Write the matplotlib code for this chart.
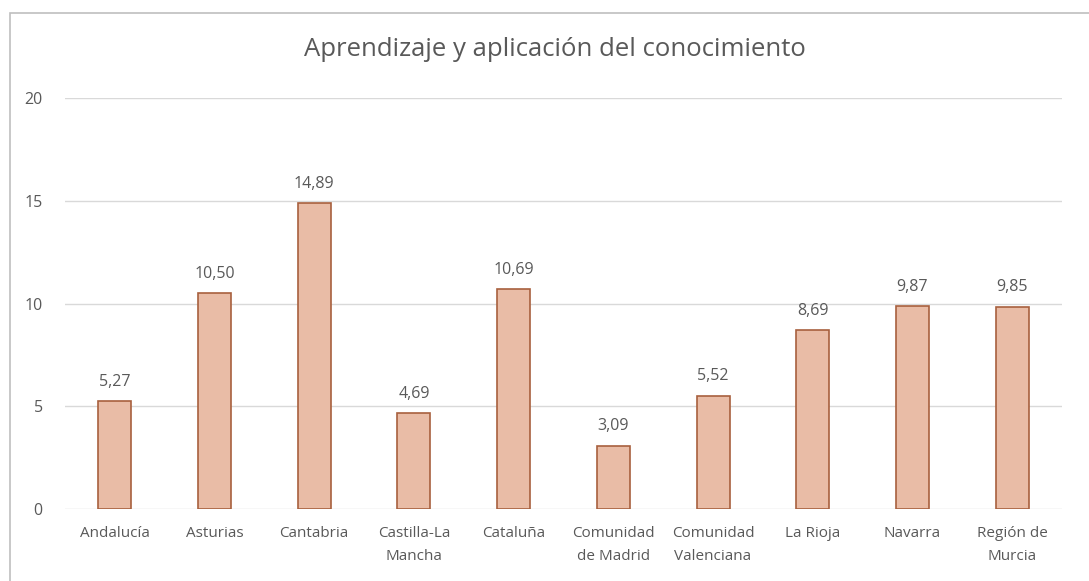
import matplotlib.pyplot as plt
from matplotlib.patches import Rectangle

# datos
regiones = ["Andalucía", "Asturias", "Cantabria", "Castilla-La\nMancha", "Cataluña",
            "Comunidad\nde Madrid", "Comunidad\nValenciana", "La Rioja", "Navarra",
            "Región de\nMurcia"]
valores = [5.27, 10.50, 14.89, 4.69, 10.69, 3.09, 5.52, 8.69, 9.87, 9.85]
yticks = [0, 5, 10, 15, 20]

plt.rcParams['font.family'] = ['Open Sans', 'DejaVu Sans']
gris = '#595959'

fig = plt.figure(figsize=(10.89, 5.81), dpi=100)
ax = fig.add_axes([65 / 1089, 1 - 509 / 581, (1062 - 65) / 1089, 411 / 581])

x = list(range(len(regiones)))
ax.bar(x, valores, width=0.33, color='#E9BCA6', edgecolor='#A8603E', linewidth=1.2, zorder=3)

for xi, v in zip(x, valores):
    ax.annotate(f"{v:.2f}".replace('.', ','), (xi, v), xytext=(0, 8),
                textcoords='offset points', ha='center', va='bottom',
                fontsize=11.5, color=gris)

ax.set_xlim(-0.5, len(regiones) - 0.5)
ax.set_ylim(0, 20)
ax.set_yticks(yticks)
ax.set_yticklabels([str(t) for t in yticks], fontsize=11.5, color=gris)
ax.set_xticks(x)
ax.set_xticklabels(regiones, fontsize=11, color=gris, linespacing=1.75)
ax.tick_params(axis='both', length=0)
ax.tick_params(axis='y', pad=16)
ax.tick_params(axis='x', pad=12)
ax.grid(axis='y', color='#D9D9D9', linewidth=1, zorder=0)
for s in ax.spines.values():
    s.set_visible(False)

fig.text(555 / 1089, 1 - 50 / 581, "Aprendizaje y aplicación del conocimiento",
         ha='center', va='center', fontsize=18.5, color=gris)

# marco del gráfico
fig.patches.append(Rectangle((10 / 1089, -0.1), 1.2, 1 - 13 / 581 + 0.1,
                             transform=fig.transFigure, fill=False,
                             edgecolor='#BFBFBF', linewidth=1.2))

fig.savefig('out.png', dpi=100)
